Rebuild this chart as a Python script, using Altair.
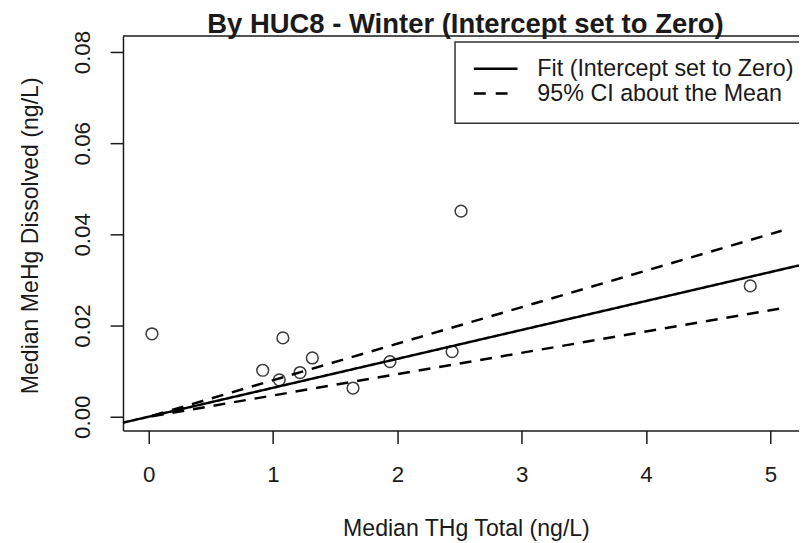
import altair as alt
import pandas as pd

# --- data ---
pts_x = [0.026, 0.917, 1.050, 1.079, 1.217, 1.316, 1.643, 1.940, 2.440, 2.512, 4.838]
pts_y = [0.0182, 0.0102, 0.0081, 0.0173, 0.0097, 0.0129, 0.0063, 0.0121, 0.0143, 0.0451, 0.0287]

fit_x = [-0.207, 5.23]
fit_y = [-0.0013, 0.0332]

ci_x = [0.026, 5.09]
ci_upper = [0.0002, 0.0408]
ci_lower = [0.00012, 0.0238]

series_names = ["Fit (Intercept set to Zero)", "95% CI about the Mean"]
title_text = "By HUC8 - Winter (Intercept set to Zero)"
x_ticks = [0, 1, 2, 3, 4, 5]
y_ticks = [0.00, 0.02, 0.04, 0.06, 0.08]
x_domain = [-0.207, 5.23]
y_domain = [-0.00304, 0.0835]

W, H = 682, 398
FONT = "Liberation Sans"
INK = "#1a1a1a"
DASH = [12, 9]

points = pd.DataFrame({"x": pts_x, "y": pts_y})

rows = []
for xv, yv in zip(fit_x, fit_y):
    rows.append({"x": xv, "y": yv, "series": series_names[0], "grp": "fit"})
for xv, yv in zip(ci_x, ci_upper):
    rows.append({"x": xv, "y": yv, "series": series_names[1], "grp": "upper"})
for xv, yv in zip(ci_x, ci_lower):
    rows.append({"x": xv, "y": yv, "series": series_names[1], "grp": "lower"})
lines = pd.DataFrame(rows)

xscale = alt.Scale(domain=x_domain, nice=False, zero=False)
yscale = alt.Scale(domain=y_domain, nice=False, zero=False)

xaxis = alt.Axis(
    values=x_ticks, format="d", grid=False,
    domainColor=INK, domainWidth=1.5, tickColor=INK, tickWidth=1.5, tickSize=13,
    labelFontSize=22.5, labelColor=INK, labelFont=FONT, labelPadding=20,
    labelFlush=False, labelOverlap=False,
    title="Median THg Total (ng/L)", titleFontSize=23.3, titleFont=FONT,
    titleFontWeight="normal", titleColor=INK,
    titleX=346, titleY=106, titleAlign="center", titleBaseline="alphabetic",
)
yaxis = alt.Axis(
    values=y_ticks, format=".2f", grid=False,
    domainColor=INK, domainWidth=1.5, tickColor=INK, tickWidth=1.5, tickSize=13,
    labelFontSize=22.5, labelColor=INK, labelFont=FONT, labelPadding=21,
    labelAngle=270, labelAlign="center", labelBaseline="alphabetic",
    labelFlush=False, labelOverlap=False,
    title="Median MeHg Dissolved (ng/L)", titleFontSize=23.3, titleFont=FONT,
    titleFontWeight="normal", titleColor=INK,
    titleX=-86, titleY=201, titleAngle=270, titleAlign="center", titleBaseline="alphabetic",
)

line_layer = alt.Chart(lines).mark_line(strokeWidth=2.5, color="black", clip=True).encode(
    x=alt.X("x:Q", scale=xscale, axis=xaxis),
    y=alt.Y("y:Q", scale=yscale, axis=yaxis),
    detail="grp:N",
    strokeDash=alt.StrokeDash(
        "series:N",
        scale=alt.Scale(domain=series_names, range=[[1, 0], DASH]),
        legend=None,
    ),
)

point_layer = alt.Chart(points).mark_point(
    shape="circle", filled=False, size=140, strokeWidth=1.5, color="#3a3a3a", opacity=1
).encode(
    x=alt.X("x:Q", scale=xscale),
    y=alt.Y("y:Q", scale=yscale),
)

one = pd.DataFrame({"k": [0]})

top_border = alt.Chart(one).mark_rule(color=INK, strokeWidth=1.5).encode(
    x=alt.value(0), x2=alt.value(W), y=alt.value(0)
)

title_layer = alt.Chart(one).mark_text(
    text=title_text, fontSize=27.7, fontWeight="bold", font=FONT, color=INK,
    align="center", baseline="alphabetic",
).encode(x=alt.value(345.5), y=alt.value(-3))

# manual legend (box, key lines, labels)
legend_box = alt.Chart(one).mark_rect(
    fill="white", stroke="#333", strokeWidth=1.5
).encode(x=alt.value(335), x2=alt.value(720), y=alt.value(6), y2=alt.value(88))

legend_solid = alt.Chart(one).mark_rule(color="black", strokeWidth=2.5).encode(
    x=alt.value(354), x2=alt.value(398), y=alt.value(33)
)
legend_dash = alt.Chart(one).mark_rule(color="black", strokeWidth=2.5, strokeDash=[12, 10]).encode(
    x=alt.value(354), x2=alt.value(398), y=alt.value(58)
)
legend_label_1 = alt.Chart(one).mark_text(
    text=series_names[0], fontSize=23.5, font=FONT, color=INK, align="left", baseline="middle"
).encode(x=alt.value(418), y=alt.value(33))
legend_label_2 = alt.Chart(one).mark_text(
    text=series_names[1], fontSize=23.5, font=FONT, color=INK, align="left", baseline="middle"
).encode(x=alt.value(418), y=alt.value(58))

chart = alt.layer(
    point_layer, line_layer, top_border, legend_box, legend_solid, legend_dash,
    legend_label_1, legend_label_2, title_layer
).properties(
    width=W, height=H,
    autosize=alt.AutoSizeParams(type="none"),
    padding={"left": 116, "top": 26, "right": 0, "bottom": 109},
).configure_view(stroke=None)

chart.save("out.html", embed_options={"renderer": "svg", "actions": False})
